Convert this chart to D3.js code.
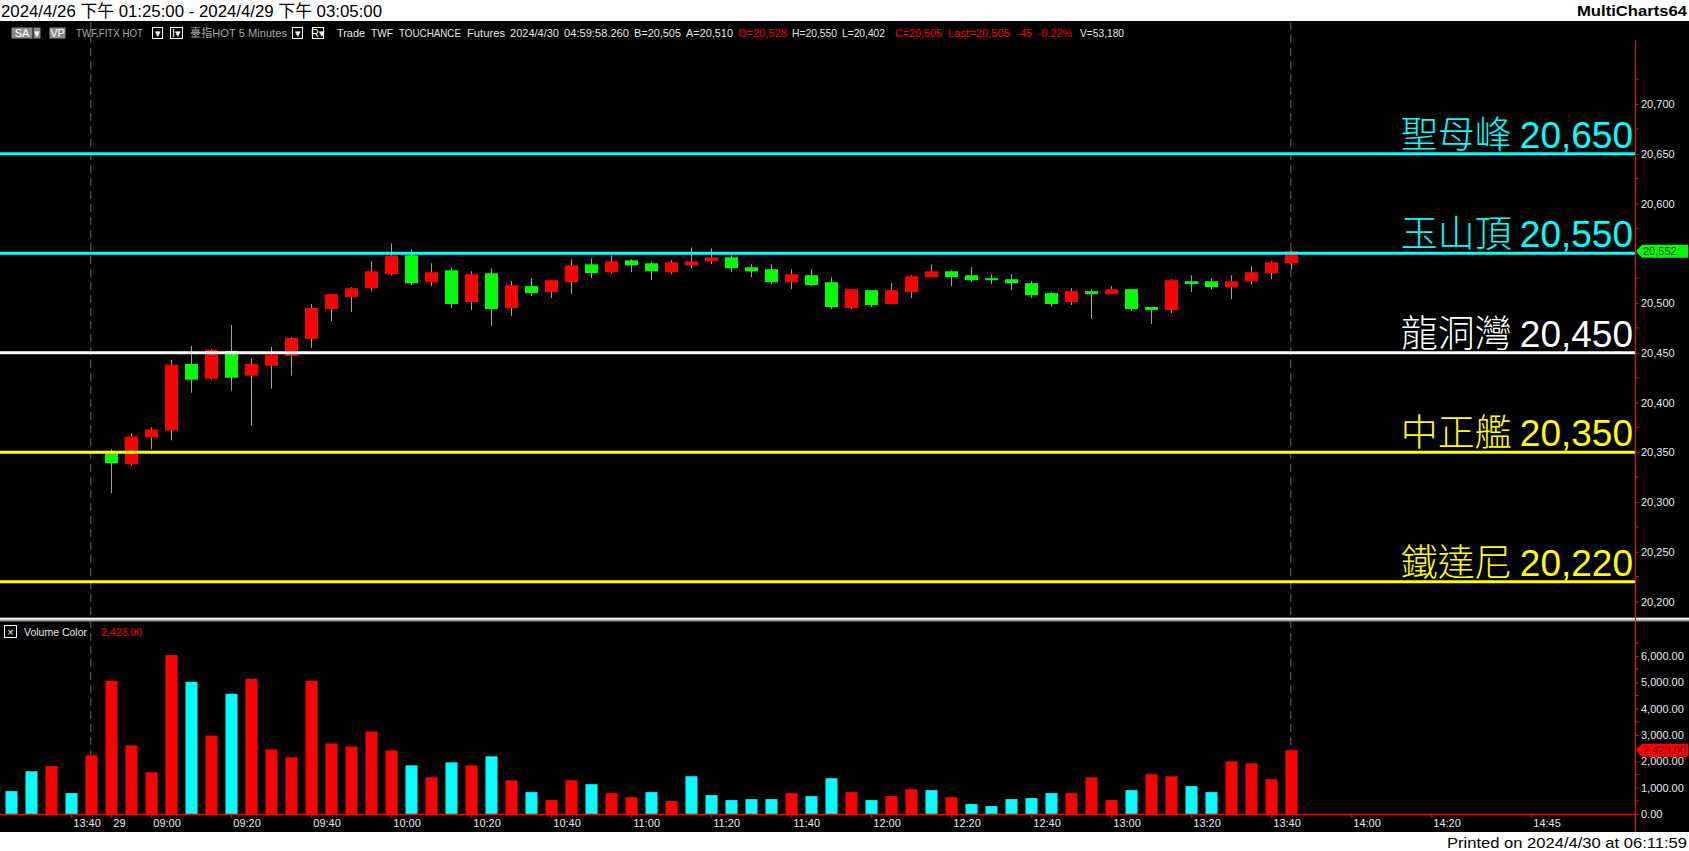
<!DOCTYPE html>
<html><head><meta charset="utf-8">
<script src="https://cdn.jsdelivr.net/npm/d3@7/dist/d3.min.js"></script>
<style>
body{margin:0;background:#000;overflow:hidden}
svg{display:block}
</style>
</head><body>
<svg id="c" width="1689" height="851"></svg>
<script>
// ---------------- DATA ----------------
const barTimes = ["13:25","13:30","13:35","13:40","13:45",
 "08:50","08:55","09:00","09:05","09:10","09:15","09:20","09:25","09:30","09:35","09:40","09:45","09:50","09:55",
 "10:00","10:05","10:10","10:15","10:20","10:25","10:30","10:35","10:40","10:45","10:50","10:55",
 "11:00","11:05","11:10","11:15","11:20","11:25","11:30","11:35","11:40","11:45","11:50","11:55",
 "12:00","12:05","12:10","12:15","12:20","12:25","12:30","12:35","12:40","12:45","12:50","12:55",
 "13:00","13:05","13:10","13:15","13:20","13:25","13:30","13:35","13:40","13:45"];
const opens = [null,null,null,null,null,20349,20338,20365,20372,20439,20424,20452,20427,20437,20447,20464,20494,20506,20515,20529,20548,20521,20533,20501,20530,20495,20517,20511,20521,20539,20531,20543,20540,20531,20538,20542,20546,20536,20534,20521,20528,20521,20495,20513,20499,20511,20526,20532,20528,20525,20524,20520,20510,20501,20512,20509,20514,20496,20493,20522,20522,20516,20522,20530,20540];
const highs = [null,null,null,null,null,20353,20369,20375,20443,20457,20454,20478,20444,20456,20466,20499,20509,20516,20542,20560,20554,20540,20536,20532,20535,20522,20525,20523,20544,20545,20548,20544,20542,20543,20556,20555,20548,20539,20539,20534,20534,20526,20514,20513,20520,20528,20539,20533,20536,20529,20529,20522,20511,20515,20514,20517,20514,20496,20524,20528,20525,20528,20537,20542,20553];
const lows = [null,null,null,null,null,20309,20337,20353,20362,20410,20423,20412,20377,20414,20427,20455,20482,20491,20512,20528,20518,20517,20495,20493,20477,20487,20507,20505,20509,20525,20530,20531,20523,20529,20535,20539,20531,20526,20519,20514,20517,20494,20494,20496,20499,20505,20526,20517,20521,20519,20513,20505,20496,20498,20484,20509,20492,20479,20490,20511,20514,20504,20519,20524,20534];
const closes = [null,null,null,null,null,20339,20366,20373,20438,20423,20453,20425,20439,20448,20465,20495,20509,20515,20532,20548,20520,20531,20499,20529,20494,20518,20510,20523,20538,20530,20542,20538,20532,20541,20542,20546,20535,20532,20521,20529,20518,20496,20514,20498,20513,20527,20532,20526,20523,20523,20520,20508,20499,20512,20509,20514,20494,20493,20523,20519,20516,20522,20531,20541,20552];
const volumes = [868,1623,1824,793,2227,5057,2604,1585,6038,5019,2981,4566,5133,2453,2151,5057,2680,2566,3132,2415,1849,1396,1962,1849,2189,1283,830,528,1283,1132,793,642,830,491,1434,717,528,566,566,793,679,1359,830,528,679,943,906,642,377,302,566,604,793,793,1396,528,906,1510,1434,1057,830,2000,1925,1321,2423];
const volDir = ["d","d","u","d","u","u","u","u","u","d","u","d","u","u","u","u","u","u","u","u","d","u","d","u","d","u","d","u","u","d","u","u","d","u","d","d","d","d","d","u","d","d","u","d","u","u","d","u","d","d","d","d","d","u","u","u","d","u","u","d","d","u","u","u","u"];
const levelNames = ["聖母峰","玉山頂","龍洞灣","中正艦","鐵達尼"];
const levelValues = [20650,20550,20450,20350,20220];
const levelColors = ["#00FFFF","#00FFFF","#FFFFFF","#FFFF00","#FFFF00"];
const priceTicks = [20200,20250,20300,20350,20400,20450,20500,20550,20600,20650,20700];
const volTicks = [0,1000,2000,3000,4000,5000,6000];
const timeTickLabels = ["13:40","29","09:00","09:20","09:40","10:00","10:20","10:40","11:00","11:20","11:40","12:00","12:20","12:40","13:00","13:20","13:40","14:00","14:20","14:45"];
const timeTickSlots = [3,5,7,11,15,19,23,27,31,35,39,43,47,51,55,59,63,67,71,76];
const sessionBreakSlots = [4,64];
const lastPrice = 20552;
const lastVolume = 2423;

// ---------------- LAYOUT ----------------
const W = 1689, H = 851;
const axisX = 1635;
const svg = d3.select("#c");
svg.append("rect").attr("width",W).attr("height",H).attr("fill","#000");

const x = d3.scaleLinear().domain([0,64]).range([10.8,1290.8]);
const y = d3.scaleLinear().domain([20184.5,20764.4]).range([617,40]);
const yv = d3.scaleLinear().domain([0,7330]).range([814,621]);

const sans = "'Liberation Sans', Arial, sans-serif";
const cjk = "'Noto Sans CJK TC', 'Noto Sans CJK SC', sans-serif";

// title strip
svg.append("rect").attr("x",0).attr("y",0).attr("width",W).attr("height",21).attr("fill","#fff");
svg.append("text").attr("x",1).attr("y",16.5).attr("font-family",sans+","+cjk).attr("font-size",17)
  .attr("textLength",381).attr("lengthAdjust","spacingAndGlyphs").attr("fill","#000")
  .text("2024/4/26 下午 01:25:00 - 2024/4/29 下午 03:05:00");
svg.append("text").attr("x",1687).attr("y",16).attr("text-anchor","end").attr("font-family",sans)
  .attr("font-size",15).attr("font-weight","bold").attr("fill","#000")
  .attr("textLength",110).attr("lengthAdjust","spacingAndGlyphs").text("MultiCharts64");

// bottom strip
svg.append("rect").attr("x",0).attr("y",832).attr("width",W).attr("height",H-832).attr("fill","#fff");
svg.append("text").attr("x",1687).attr("y",847.5).attr("text-anchor","end").attr("font-family",sans)
  .attr("font-size",15).attr("fill","#000").attr("textLength",240).attr("lengthAdjust","spacingAndGlyphs")
  .text("Printed on 2024/4/30 at 06:11:59");

// session break dashed lines
svg.append("g").selectAll("line").data(sessionBreakSlots).join("line")
  .attr("x1",d=>x(d)).attr("x2",d=>x(d)).attr("y1",22).attr("y2",814)
  .attr("stroke","#6a6a6a").attr("stroke-width",1).attr("stroke-dasharray","8,5");

// header status line
const hdr = svg.append("g").attr("font-family",sans).attr("font-size",11);
function box(x0,w,label,bg,fg,border){
  hdr.append("rect").attr("x",x0+0.5).attr("y",27.5).attr("width",w).attr("height",11)
    .attr("fill",bg).attr("stroke",border||"none");
  hdr.append("text").attr("x",x0+w/2+0.5).attr("y",37).attr("text-anchor","middle").attr("fill",fg).text(label);
}
box(11,21,"SA","#8a8a8a","#fff");
box(33,7,"▾","#8a8a8a","#fff");
box(49,16,"VP","#8a8a8a","#fff");
box(152,10,"▾","#000","#fff","#fff");
box(170,12,"I▾","#000","#fff","#fff");
box(292,10,"▾","#000","#fff","#fff");
box(312,11,"R▾","#000","#fff","#fff");
const hItems = [
  [76,"TWF.FITX HOT","#a8a8a8",67],
  [190,"臺指HOT  5 Minutes","#a8a8a8",97],
  [337,"Trade","#e8e8e8",28],[371,"TWF","#e8e8e8",22],[399,"TOUCHANCE","#e8e8e8",62],[467,"Futures","#e8e8e8",38],
  [510,"2024/4/30","#e8e8e8",49],[564,"04:59:58.260","#e8e8e8",65],[634,"B=20,505","#e8e8e8",47],
  [686,"A=20,510","#e8e8e8",47],[738,"O=20,528","#ff0000",49],[792,"H=20,550","#e8e8e8",45],
  [842,"L=20,402","#e8e8e8",43],[895,"C=20,505","#ff0000",47],[948,"Last=20,505","#ff0000",62],
  [1017,"-45","#ff0000",15],[1038,"-0.22%","#ff0000",34],[1080,"V=53,180","#e8e8e8",44]
];
hItems.forEach(([hx,t,c,w])=>{
  hdr.append("text").attr("x",hx).attr("y",37).attr("fill",c)
    .attr("font-family", t.includes("臺")? sans+","+cjk : sans)
    .attr("textLength",w).attr("lengthAdjust","spacingAndGlyphs").text(t);
});

// candles
const idx = d3.range(opens.length).filter(i=>opens[i]!==null);
const cg = svg.append("g");
cg.selectAll("line.wick").data(idx).join("line").attr("class","wick")
  .attr("x1",i=>Math.round(x(i))+0.5).attr("x2",i=>Math.round(x(i))+0.5)
  .attr("y1",i=>y(highs[i])).attr("y2",i=>y(lows[i]))
  .attr("stroke","#a0a0a0").attr("stroke-width",1);
const bw = 13;
cg.selectAll("rect.body").data(idx).join("rect").attr("class","body")
  .attr("x",i=>Math.round(x(i))-6)
  .attr("width",bw)
  .attr("y",i=>y(Math.max(opens[i],closes[i])))
  .attr("height",i=>Math.max(1.5,Math.abs(y(opens[i])-y(closes[i]))))
  .attr("fill",i=>closes[i]>=opens[i]?"#FF0000":"#00FF00");

// level lines & labels
const lg = svg.append("g");
levelValues.forEach((v,i)=>{
  lg.append("line").attr("x1",0).attr("x2",axisX).attr("y1",y(v)).attr("y2",y(v))
    .attr("stroke",levelColors[i]).attr("stroke-width",3);
  const t = lg.append("text").attr("x",1633).attr("y",y(v)-6).attr("text-anchor","end")
    .attr("fill",levelColors[i]).attr("font-size",37);
  t.append("tspan").attr("font-family",cjk).attr("font-weight",300).text(levelNames[i]+" ");
  t.append("tspan").attr("font-family",sans).text(d3.format(",")(v));
});

// price axis
const pa = svg.append("g").attr("transform",`translate(${axisX},0)`)
  .call(d3.axisRight(y).tickValues(priceTicks).tickSize(4).tickPadding(2).tickFormat(d3.format(",")));
pa.select(".domain").remove();
pa.selectAll(".tick line").attr("stroke","#ff0000");
pa.selectAll(".tick text").attr("fill","#e8e8f0").attr("font-family",sans).attr("font-size",11);
svg.append("g").selectAll("line").data(d3.range(20175,20775,25).filter(v=>v%50!==0 && v>20185 && v<20764)).join("line")
  .attr("x1",axisX).attr("x2",axisX+4).attr("y1",d=>y(d)).attr("y2",d=>y(d)).attr("stroke","#ff0000");

// separator
svg.append("rect").attr("x",0).attr("y",617.5).attr("width",W).attr("height",4).attr("fill","#9a9a9a");
svg.append("rect").attr("x",0).attr("y",618).attr("width",W).attr("height",1.5).attr("fill","#ffffff");

// volume bars
svg.append("g").selectAll("rect").data(volumes).join("rect")
  .attr("x",(d,i)=>Math.round(x(i))-5.5).attr("width",12)
  .attr("y",d=>yv(d)).attr("height",d=>yv(0)-yv(d))
  .attr("fill",(d,i)=>volDir[i]==="u"?"#FF0000":"#00FFFF");

// volume label
svg.append("rect").attr("x",4.5).attr("y",625.5).attr("width",12).attr("height",12).attr("fill","none").attr("stroke","#fff");
svg.append("text").attr("x",10.5).attr("y",635.5).attr("text-anchor","middle").attr("fill","#fff").attr("font-family",sans).attr("font-size",11).text("×");
svg.append("text").attr("x",24).attr("y",635.5).attr("fill","#e8e8f0").attr("font-family",sans).attr("font-size",11)
  .attr("textLength",63).attr("lengthAdjust","spacingAndGlyphs").text("Volume Color");
svg.append("text").attr("x",101).attr("y",635.5).attr("fill","#ff0000").attr("font-family",sans).attr("font-size",11)
  .attr("textLength",41).attr("lengthAdjust","spacingAndGlyphs").text(d3.format(",.2f")(lastVolume));

// volume axis
const va = svg.append("g").attr("transform",`translate(${axisX},0)`)
  .call(d3.axisRight(yv).tickValues(volTicks).tickSize(4).tickPadding(2).tickFormat(d3.format(",.2f")));
va.select(".domain").remove();
va.selectAll(".tick line").attr("stroke","#ff0000");
va.selectAll(".tick text").attr("fill","#e8e8f0").attr("font-family",sans).attr("font-size",11);
svg.append("g").selectAll("line").data([500,1500,2500,3500,4500,5500,6500]).join("line")
  .attr("x1",axisX).attr("x2",axisX+4).attr("y1",d=>yv(d)).attr("y2",d=>yv(d)).attr("stroke","#ff0000");

// right axis vertical line
svg.append("line").attr("x1",axisX+0.5).attr("x2",axisX+0.5).attr("y1",40).attr("y2",832).attr("stroke","#ff0000");

// time axis
svg.append("line").attr("x1",0).attr("x2",axisX).attr("y1",814.5).attr("y2",814.5).attr("stroke","#ff0000").attr("stroke-width",1.5);
const ta = svg.append("g").attr("transform","translate(0,814)")
  .call(d3.axisBottom(x).tickValues(timeTickSlots).tickSize(4).tickPadding(0)
    .tickFormat((d,i)=>timeTickLabels[i]));
ta.select(".domain").remove();
ta.selectAll(".tick line").attr("stroke","#ff0000");
ta.selectAll(".tick text").attr("fill","#e8e8f0").attr("font-family",sans).attr("font-size",11)
  .attr("text-anchor","start").attr("x",2).attr("dy","0.75em").attr("y",5);

// last price marker
function marker(yy, label, bg, fg){
  const g = svg.append("g");
  g.append("path").attr("d",`M${axisX+1},${yy} L${axisX+7},${yy-6.5} L1688,${yy-6.5} L1688,${yy+6.5} L${axisX+7},${yy+6.5} Z`).attr("fill",bg);
  g.append("text").attr("x",axisX+8).attr("y",yy+4).attr("fill",fg).attr("font-family",sans).attr("font-size",11).text(label);
}
marker(y(lastPrice), d3.format(",")(lastPrice), "#00FF00", "#1a3a1a");
marker(yv(lastVolume), d3.format(",.2f")(lastVolume), "#FF0000", "#5a0000");
</script>
</body></html>
